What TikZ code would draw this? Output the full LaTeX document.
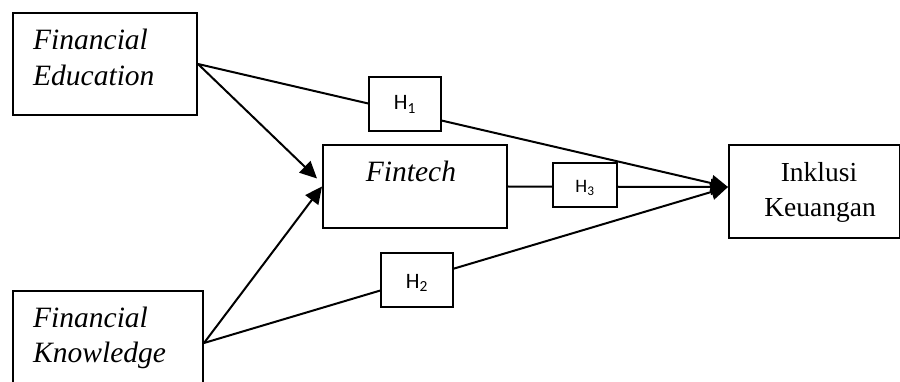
\documentclass[tikz,border=0pt]{standalone}
\usepackage{fontspec}
\setmainfont{Liberation Serif}
\newfontfamily\hfont{Carlito}
\usetikzlibrary{arrows.meta}
\begin{document}
\begin{tikzpicture}[x=1pt,y=-1pt,
  box/.style={draw,line width=2pt,fill=white,inner sep=0pt,anchor=north west},
  lbl/.style={inner sep=0pt,font=\fontsize{27.5}{36}\selectfont},
  ilbl/.style={inner sep=0pt,font=\fontsize{29.5}{36}\selectfont\itshape},
  hlbl/.style={inner sep=0pt,font=\hfont\fontsize{22}{26}\selectfont},
  conn/.style={line width=2pt},
  arr/.style={conn,-{Triangle[length=17pt,width=16pt]}}]
\useasboundingbox (0,0) rectangle (900,382);
% main boxes
\node[box,minimum width=184pt,minimum height=102pt] (fe) at (12,12) {};
\node[box,minimum width=190pt,minimum height=104pt] (fk) at (12,290) {};
\node[box,minimum width=184pt,minimum height=83pt] (ft) at (322,144) {};
\node[box,minimum width=171pt,minimum height=93pt] (ik) at (728,144) {};
% texts
\node[ilbl,anchor=base west] (fe1) at (33,50) {Financial};
\node[ilbl,anchor=base west] (fe2) at (33,86) {Education};
\node[ilbl,anchor=base west] (fk1) at (33,327) {Financial};
\node[ilbl,anchor=base west] (fk2) at (33,362) {Knowledge};
\node[ilbl,anchor=base] (ft1) at (411,182) {Fintech};
\node[lbl,anchor=base] (ik1) at (819,182) {Inklusi};
\node[lbl,anchor=base] (ik2) at (820,217) {Keuangan};
% connector end points
\coordinate (iktip) at ([yshift=4.5pt]ik.west);
\coordinate (fttip) at ([xshift=-5pt,yshift=8pt]ft.west);
% connectors
\draw[arr] (fe.east) -- (iktip);
\draw[arr] (fk.east) -- (iktip);
\draw[arr] (ft.east) -- (iktip);
\draw[arr] (fe.east) -- (fttip);
\draw[arr] (fk.east) -- (ft.west);
% hypothesis boxes
\node[box,minimum width=72pt,minimum height=54pt] (h1) at (368,76) {};
\node[box,minimum width=72pt,minimum height=54pt] (h2) at (380,252) {};
\node[box,minimum width=64pt,minimum height=44pt] (h3) at (552,162) {};
\node[hlbl,anchor=base] (h1t) at (h1.center |- 0,110) {H\textsubscript{1}};
\node[hlbl,anchor=base] (h2t) at (h2.center |- 0,288) {H\textsubscript{2}};
\node[hlbl,anchor=base,font=\hfont\fontsize{19}{22}\selectfont] (h3t) at (h3.center |- 0,193) {H\textsubscript{3}};
\end{tikzpicture}
\end{document}
